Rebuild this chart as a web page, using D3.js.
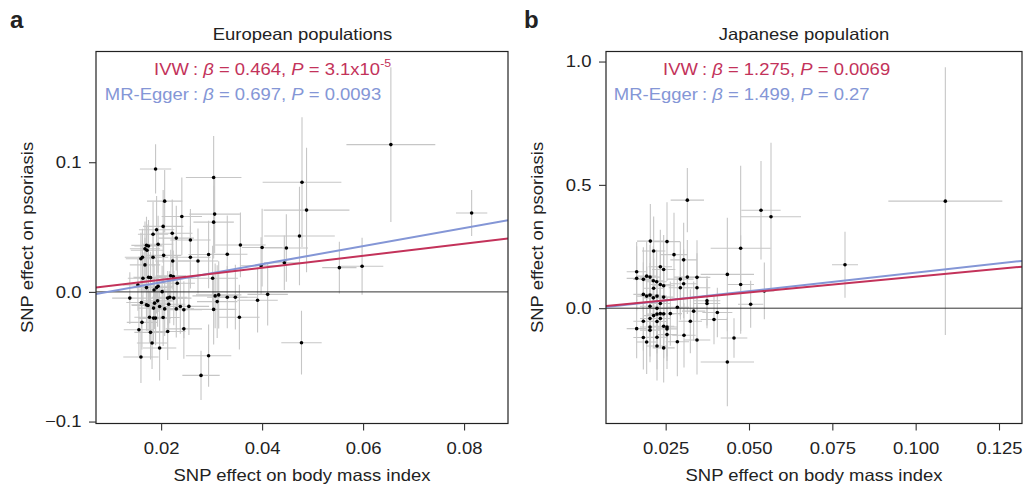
<!DOCTYPE html>
<html><head><meta charset="utf-8">
<script src="https://cdn.jsdelivr.net/npm/d3@7"></script>
<style>
body{margin:0;background:#fff}
svg{display:block}
text{font-family:"Liberation Sans",Arial,Helvetica,sans-serif;fill:#222}
</style></head>
<body><svg id="c" width="1023" height="487"></svg>
<script>
// ---------- DATA ----------
const xTicksA = [0.02, 0.04, 0.06, 0.08];
const yTicksA = [-0.1, 0.0, 0.1];
const xTicksB = [0.025, 0.050, 0.075, 0.100, 0.125];
const yTicksB = [0.0, 0.5, 1.0];

const titles = ["European populations", "Japanese population"];
const panelLetters = ["a", "b"];
const xLabel = "SNP effect on body mass index";
const yLabel = "SNP effect on psoriasis";

// European: SNP effect on BMI, on psoriasis, and their standard-error bar half-lengths
const bmiA = [0.0189,0.0207,0.0304,0.0306,0.0304,0.0241,0.0204,0.0191,0.0184,0.0222,0.0230,0.0258,0.0194,0.0171,0.0175,0.0168,0.0172,0.0205,0.0184,0.0163,0.0160,0.0258,0.0223,0.0273,0.0294,0.0331,0.0357,0.0400,0.0448,0.0479,0.0488,0.0474,0.0444,0.0398,0.0655,0.0815,0.0553,0.0598,0.0302,0.0219,0.0224,0.0164,0.0175,0.0179,0.0154,0.0171,0.0186,0.0191,0.0194,0.0232,0.0202,0.0138,0.0161,0.0171,0.0174,0.0187,0.0193,0.0213,0.0217,0.0225,0.0307,0.0314,0.0331,0.0347,0.0311,0.0391,0.0411,0.0185,0.0197,0.0207,0.0215,0.0230,0.0238,0.0245,0.0255,0.0304,0.0177,0.0185,0.0189,0.0204,0.0162,0.0156,0.0179,0.0213,0.0245,0.0182,0.0197,0.0160,0.0294,0.0279,0.0478,0.0355,0.0168];
const psoA = [0.0948,0.0700,0.0882,0.0600,0.0538,0.0582,0.0505,0.0479,0.0444,0.0452,0.0415,0.0400,0.0367,0.0359,0.0354,0.0333,0.0321,0.0282,0.0267,0.0267,0.0256,0.0267,0.0238,0.0238,0.0288,0.0290,0.0362,0.0342,0.0338,0.0846,0.0631,0.0431,0.0225,0.0202,0.1136,0.0608,0.0187,0.0198,0.0105,0.0125,0.0119,0.0105,0.0113,0.0110,0.0054,0.0033,0.0015,0.0033,0.0044,0.0067,0.0002,-0.0048,-0.0082,-0.0100,-0.0105,-0.0087,-0.0069,-0.0048,-0.0041,-0.0048,-0.0031,-0.0023,-0.0041,-0.0041,-0.0075,-0.0064,-0.0019,-0.0125,-0.0113,-0.0131,-0.0095,-0.0131,-0.0113,-0.0138,-0.0112,-0.0135,-0.0195,-0.0202,-0.0202,-0.0198,-0.0235,-0.0292,-0.0312,-0.0305,-0.0285,-0.0394,-0.0433,-0.0502,-0.0492,-0.0644,-0.0392,-0.0195,0.0208];
const bmiSeA = [0.0031,0.0035,0.0055,0.0050,0.0040,0.0040,0.0040,0.0035,0.0030,0.0040,0.0035,0.0040,0.0030,0.0030,0.0028,0.0030,0.0032,0.0035,0.0030,0.0035,0.0030,0.0040,0.0035,0.0040,0.0040,0.0040,0.0050,0.0040,0.0043,0.0078,0.0085,0.0070,0.0040,0.0040,0.0088,0.0031,0.0034,0.0042,0.0050,0.0030,0.0035,0.0030,0.0030,0.0032,0.0030,0.0030,0.0032,0.0030,0.0030,0.0035,0.0030,0.0035,0.0030,0.0030,0.0032,0.0030,0.0030,0.0035,0.0035,0.0035,0.0045,0.0045,0.0040,0.0045,0.0040,0.0040,0.0040,0.0030,0.0030,0.0032,0.0033,0.0035,0.0035,0.0036,0.0040,0.0045,0.0030,0.0030,0.0030,0.0033,0.0030,0.0030,0.0032,0.0035,0.0036,0.0030,0.0033,0.0035,0.0045,0.0037,0.0040,0.0040,0.0030];
const psoSeA = [0.019,0.024,0.032,0.030,0.028,0.030,0.028,0.026,0.025,0.026,0.025,0.024,0.022,0.022,0.020,0.021,0.020,0.022,0.020,0.022,0.020,0.024,0.022,0.025,0.026,0.030,0.025,0.030,0.026,0.050,0.048,0.038,0.021,0.022,0.0596,0.0177,0.020,0.022,0.025,0.020,0.020,0.020,0.019,0.020,0.020,0.020,0.020,0.020,0.020,0.021,0.020,0.020,0.020,0.020,0.020,0.020,0.020,0.021,0.020,0.021,0.025,0.026,0.024,0.025,0.028,0.025,0.024,0.020,0.020,0.021,0.020,0.022,0.021,0.022,0.022,0.027,0.020,0.020,0.021,0.022,0.021,0.020,0.021,0.022,0.023,0.020,0.025,0.020,0.024,0.019,0.0246,0.025,0.021];

// Japanese
const bmiB = [0.0315,0.0536,0.0566,0.1089,0.0788,0.0475,0.0435,0.0475,0.0505,0.0546,0.0455,0.0435,0.0405,0.0395,0.0374,0.0374,0.0344,0.0344,0.0334,0.0324,0.0344,0.0305,0.0285,0.0304,0.0275,0.0254,0.0204,0.0214,0.0234,0.0244,0.0163,0.0163,0.0183,0.0193,0.0203,0.0213,0.0223,0.0234,0.0244,0.0214,0.0294,0.0304,0.0294,0.0315,0.0183,0.0193,0.0203,0.0224,0.0244,0.0213,0.0285,0.0234,0.0224,0.0203,0.0214,0.0224,0.0234,0.0244,0.0264,0.0203,0.0234,0.0224,0.0183,0.0163,0.0203,0.0203,0.0244,0.0254,0.0254,0.0224,0.0254,0.0183,0.0193,0.0224,0.0244];
const psoB = [0.438,0.397,0.371,0.434,0.176,0.243,0.137,0.096,0.016,0.070,-0.121,-0.218,-0.0175,-0.046,0.030,0.019,0.125,0.083,-0.012,-0.053,-0.129,-0.110,-0.136,0.196,0.217,0.270,0.272,0.232,0.168,0.157,0.148,0.121,0.117,0.130,0.126,0.111,0.107,0.096,0.091,0.081,0.118,0.099,0.083,0.126,0.056,0.049,0.053,0.049,0.045,0.042,0.004,0.019,0.000,0.008,-0.030,-0.024,-0.022,-0.023,-0.022,-0.042,-0.042,-0.054,-0.053,-0.083,-0.076,-0.089,-0.073,-0.076,-0.084,-0.118,-0.107,-0.119,-0.137,-0.153,-0.161];
const bmiSeB = [0.0050,0.0059,0.0090,0.0171,0.0039,0.0090,0.0080,0.0040,0.0038,0.0030,0.0040,0.0080,0.0045,0.0040,0.0040,0.0040,0.0040,0.0040,0.0035,0.0035,0.0040,0.0035,0.0035,0.0040,0.0040,0.0040,0.0040,0.0035,0.0035,0.0035,0.0030,0.0030,0.0030,0.0030,0.0030,0.0030,0.0030,0.0032,0.0033,0.0030,0.0040,0.0040,0.0035,0.0040,0.0030,0.0030,0.0030,0.0030,0.0033,0.0030,0.0035,0.0030,0.0030,0.0030,0.0030,0.0030,0.0030,0.0032,0.0035,0.0030,0.0030,0.0030,0.0030,0.0030,0.0030,0.0030,0.0032,0.0033,0.0033,0.0030,0.0033,0.0030,0.0030,0.0030,0.0033];
const psoSeB = [0.13,0.20,0.30,0.543,0.134,0.335,0.23,0.20,0.095,0.115,0.08,0.18,0.10,0.10,0.10,0.10,0.15,0.14,0.12,0.13,0.14,0.13,0.14,0.15,0.17,0.16,0.15,0.14,0.15,0.14,0.12,0.13,0.13,0.14,0.13,0.14,0.13,0.14,0.13,0.12,0.15,0.14,0.13,0.15,0.13,0.12,0.13,0.12,0.13,0.12,0.12,0.12,0.13,0.12,0.13,0.12,0.13,0.12,0.13,0.12,0.12,0.13,0.12,0.12,0.12,0.13,0.13,0.12,0.13,0.13,0.14,0.13,0.13,0.14,0.14];

// Regression estimates
const ivwSlope = [0.464, 1.275];
const eggerSlope = [0.697, 1.499];
const eggerIntercept = [-0.0065, -0.006];
const ivwLabels = [["0.464", "3.1x10", "-5"], ["1.275", "0.0069", ""]];
const eggerLabels = [["0.697", "0.0093"], ["1.499", "0.27"]];

// ---------- LAYOUT ----------
const SX = 1.12, FS = 16.5;
const RED = "#c3325a", BLUE = "#8496d6";
const panels = [
  {l:96, r:508, t:51.5, b:423.5, xd:[0.0071,0.0887], yd:[-0.1015,0.1854], xt:xTicksA, yt:yTicksA, xf:".2f", yf:".1f",
   bmi:bmiA, pso:psoA, bse:bmiSeA, pse:psoSeA, titleX:302.5, colonX:193, letterX:10},
  {l:606, r:1022, t:51.5, b:423.5, xd:[0.0071,0.1319], yd:[-0.4675,1.0407], xt:xTicksB, yt:yTicksB, xf:".3f", yf:".1f",
   bmi:bmiB, pso:psoB, bse:bmiSeB, pse:psoSeB, titleX:804, colonX:702, letterX:524}
];

const svg = d3.select("#c");

function stext(g, x, y, anchor, str, rot) {
  return g.append("text")
    .attr("transform", `translate(${x},${y})` + (rot ? ` rotate(${rot})` : "") + ` scale(${SX},1)`)
    .attr("text-anchor", anchor).attr("font-size", FS).text(str);
}

panels.forEach((p, i) => {
  const x = d3.scaleLinear().domain(p.xd).range([p.l, p.r]);
  const y = d3.scaleLinear().domain(p.yd).range([p.b, p.t]);
  const g = svg.append("g");
  const clipId = "clip" + i;
  svg.append("clipPath").attr("id", clipId).append("rect")
    .attr("x", p.l).attr("y", p.t).attr("width", p.r - p.l).attr("height", p.b - p.t);
  const pg = g.append("g").attr("clip-path", `url(#${clipId})`);
  const idx = d3.range(p.bmi.length);

  // error bars
  pg.selectAll("line.h").data(idx).join("line")
    .attr("x1", d => x(p.bmi[d] - p.bse[d])).attr("x2", d => x(p.bmi[d] + p.bse[d]))
    .attr("y1", d => y(p.pso[d])).attr("y2", d => y(p.pso[d]))
    .attr("stroke", "#c6c6c6").attr("stroke-width", 1.1);
  pg.selectAll("line.v").data(idx).join("line")
    .attr("x1", d => x(p.bmi[d])).attr("x2", d => x(p.bmi[d]))
    .attr("y1", d => y(p.pso[d] - p.pse[d])).attr("y2", d => y(p.pso[d] + p.pse[d]))
    .attr("stroke", "#c6c6c6").attr("stroke-width", 1.1);

  // zero line
  pg.append("line").attr("x1", p.l).attr("x2", p.r).attr("y1", y(0)).attr("y2", y(0))
    .attr("stroke", "#333").attr("stroke-width", 1);

  // points
  pg.selectAll("circle").data(idx).join("circle")
    .attr("cx", d => x(p.bmi[d])).attr("cy", d => y(p.pso[d])).attr("r", 1.8).attr("fill", "#000");

  // regression lines
  const line = d3.line().x(d => x(d[0])).y(d => y(d[1]));
  const xs = x.domain();
  pg.append("path").attr("d", line(xs.map(v => [v, eggerIntercept[i] + eggerSlope[i] * v])))
    .attr("stroke", BLUE).attr("stroke-width", 2).attr("fill", "none");
  pg.append("path").attr("d", line(xs.map(v => [v, ivwSlope[i] * v])))
    .attr("stroke", RED).attr("stroke-width", 2).attr("fill", "none");

  // box
  g.append("rect").attr("x", p.l).attr("y", p.t).attr("width", p.r - p.l).attr("height", p.b - p.t)
    .attr("fill", "none").attr("stroke", "#222").attr("stroke-width", 1.2);

  // axes
  const ax = g.append("g").attr("transform", `translate(0,${p.b})`)
    .call(d3.axisBottom(x).tickValues(p.xt).tickFormat(d3.format(p.xf)).tickSize(7).tickPadding(12).tickSizeOuter(0));
  const ay = g.append("g").attr("transform", `translate(${p.l},0)`)
    .call(d3.axisLeft(y).tickValues(p.yt).tickFormat(d3.format(p.yf)).tickSize(7).tickPadding(6).tickSizeOuter(0));
  [ax, ay].forEach(a => {
    a.select(".domain").remove();
    a.selectAll("line").attr("stroke", "#333").attr("stroke-width", 1.1);
    a.selectAll("text").attr("font-size", FS).attr("fill", "#222")
      .attr("font-family", '"Liberation Sans",Arial,sans-serif')
      .attr("transform", `scale(${SX},1)`);
  });

  // titles / labels
  stext(g, p.titleX, 40, "middle", titles[i]);
  stext(g, (p.l + p.r) / 2, 481, "middle", xLabel);
  stext(g, p.l - 63, (p.t + p.b) / 2, "middle", yLabel, -90);
  g.append("text").attr("x", p.letterX).attr("y", 28).attr("font-size", 24).attr("font-weight", "bold")
    .attr("fill", "#111").text(panelLetters[i]);

  // legend
  const cx = p.colonX;
  stext(g, cx - 4, 75, "end", "IVW").style("fill", RED);
  const t1 = stext(g, cx, 75, "start", "").style("fill", RED);
  t1.append("tspan").text(": ");
  t1.append("tspan").attr("font-style", "italic").text("β");
  t1.append("tspan").text(" = " + ivwLabels[i][0] + ", ");
  t1.append("tspan").attr("font-style", "italic").text("P");
  t1.append("tspan").text(" = " + ivwLabels[i][1]);
  if (ivwLabels[i][2]) t1.append("tspan").attr("dy", -8).attr("font-size", 11).text(ivwLabels[i][2]);

  stext(g, cx - 4, 100, "end", "MR-Egger").style("fill", BLUE);
  const t2 = stext(g, cx, 100, "start", "").style("fill", BLUE);
  t2.append("tspan").text(": ");
  t2.append("tspan").attr("font-style", "italic").text("β");
  t2.append("tspan").text(" = " + eggerLabels[i][0] + ", ");
  t2.append("tspan").attr("font-style", "italic").text("P");
  t2.append("tspan").text(" = " + eggerLabels[i][1]);
});
</script></body></html>
